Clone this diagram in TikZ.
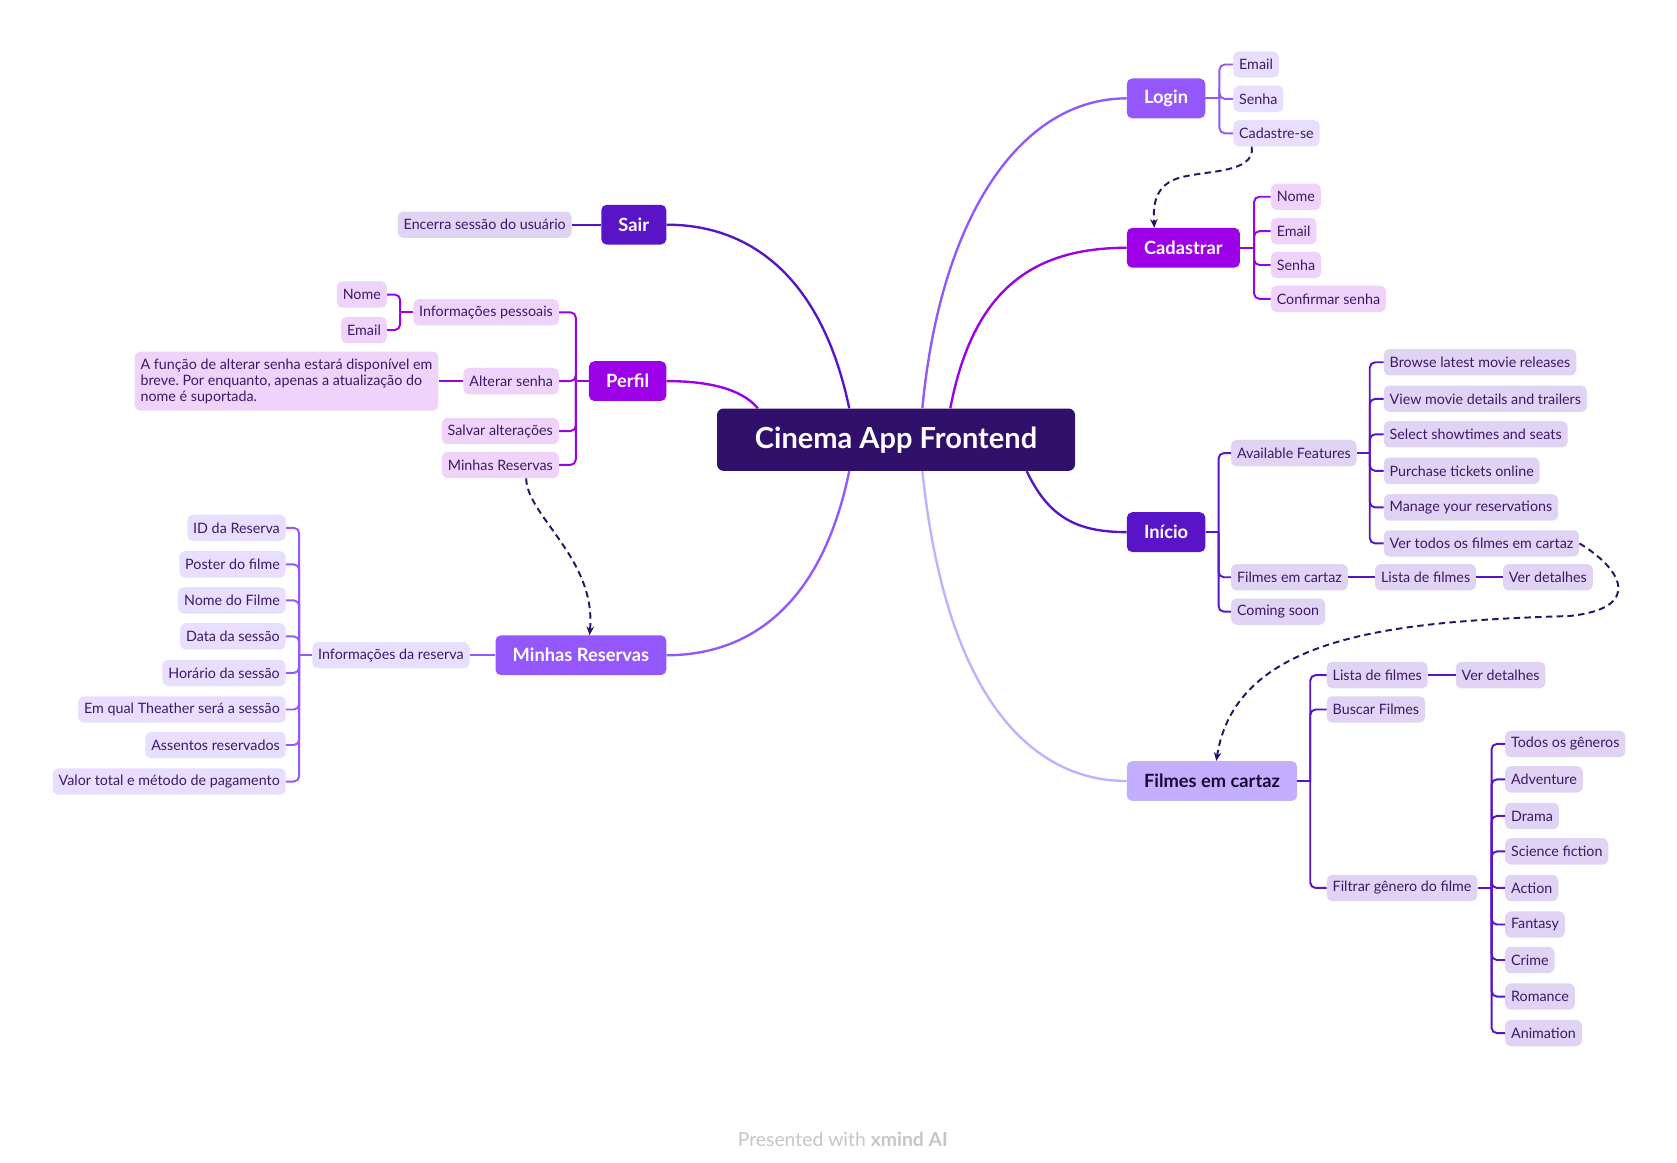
\documentclass[tikz,border=0pt]{standalone}
\usepackage{fontspec}
\setmainfont{Lato}
\usetikzlibrary{arrows.meta}
\definecolor{cRoot}{HTML}{30106A}
\definecolor{cViolet}{HTML}{9457FB}
\definecolor{cPurple}{HTML}{9B00E6}
\definecolor{cDeep}{HTML}{5A14C8}
\definecolor{cLight}{HTML}{C3AEFF}
\definecolor{fViolet}{HTML}{E8DEFF}
\definecolor{fPurple}{HTML}{EFD3FA}
\definecolor{fDeep}{HTML}{E0D3F4}
\definecolor{cSubText}{HTML}{3B1A6B}
\definecolor{cDark}{HTML}{1A0A33}
\definecolor{cDash}{HTML}{2E1065}
\definecolor{cFoot}{HTML}{C6C6C6}
\frenchspacing
\begin{document}
\begin{tikzpicture}[x=1pt,y=-1pt,
  root/.style={fill=cRoot, rounded corners=6pt, text=white, minimum width=333pt, minimum height=58pt,
    font=\fontsize{27}{30}\selectfont\bfseries},
  mainn/.style={rounded corners=5pt, text=white, minimum height=37pt, inner xsep=16pt, inner ysep=0pt,
    font=\fontsize{17}{20}\selectfont\bfseries},
  sub/.style={rounded corners=5pt, minimum height=24.5pt, inner xsep=5.5pt, inner ysep=0pt,
    font=\fontsize{13.3}{15}\selectfont, text=cSubText},
  big/.style={line width=2.2pt},
  br/.style={line width=1.8pt, rounded corners=5pt},
  dsh/.style={line width=1.8pt, cDash, dash pattern=on 6pt off 4pt, -{Stealth[length=8pt,width=7pt]}}
]
\useasboundingbox (0,0) rectangle (1560,1081);
\fill[white] (0,0) rectangle (1560,1081);

% root and main topics
\node[root] (root) at (833.5,409) {Cinema App Frontend};
\node[mainn, fill=cViolet, anchor=west] (login) at (1048,91.5) {Login};
\node[mainn, fill=cPurple, anchor=west] (cad) at (1048,230.5) {Cadastrar};
\node[mainn, fill=cDeep, anchor=west] (ini) at (1048,495) {Início};
\node[mainn, fill=cLight, text=cDark, anchor=west] (fil) at (1048,726.5) {Filmes em cartaz};
\node[mainn, fill=cDeep, anchor=east] (sair) at (620,209) {Sair};
\node[mainn, fill=cPurple, anchor=east] (perf) at (620,354.5) {Perfil};
\node[mainn, fill=cViolet, anchor=east] (mr) at (620,609.5) {Minhas Reservas};

% main curves
\draw[big, cViolet] ([xshift=24.5pt]root.north) .. controls (875,200) and (950,91.5) .. (login.west);
\draw[big, cPurple] ([xshift=50.5pt]root.north) .. controls (905,270) and (960,230.5) .. (cad.west);
\draw[big, cDeep] ([xshift=-43.5pt]root.north) .. controls (765,260) and (700,209) .. (sair.east);
\draw[big, cPurple] ([xshift=-128.5pt]root.north) .. controls (690,362) and (660,354.5) .. (perf.east);
\draw[big, cDeep] ([xshift=121.5pt]root.south) .. controls (975,480) and (1000,495) .. (ini.west);
\draw[big, cLight] ([xshift=24.5pt]root.south) .. controls (880,650) and (960,726.5) .. (fil.west);
\draw[big, cViolet] ([xshift=-43.5pt]root.south) .. controls (765,560) and (700,609.5) .. (mr.east);

% Login
\node[sub, fill=fViolet, anchor=west] (l1) at (1147,60) {Email};
\node[sub, fill=fViolet, anchor=west] (l2) at (1147,92) {Senha};
\node[sub, fill=fViolet, anchor=west] (l3) at (1147,124) {Cadastre-se};
\coordinate (loginB) at ([xshift=13pt]login.east);
\draw[br, cViolet] (login.east) -- (loginB);
\foreach \c in {l1,l2,l3} \draw[br, cViolet] (loginB) |- (\c.west);

% Cadastrar
\node[sub, fill=fPurple, anchor=west] (c1) at (1182,183) {Nome};
\node[sub, fill=fPurple, anchor=west] (c2) at (1182,215) {Email};
\node[sub, fill=fPurple, anchor=west] (c3) at (1182,246.5) {Senha};
\node[sub, fill=fPurple, anchor=west] (c4) at (1182,278) {Confirmar senha};
\coordinate (cadB) at ([xshift=13pt]cad.east);
\draw[br, cPurple] (cad.east) -- (cadB);
\foreach \c in {c1,c2,c3,c4} \draw[br, cPurple] (cadB) |- (\c.west);

% Sair
\node[sub, fill=fDeep, anchor=east] (s1) at (532,209) {Encerra sessão do usuário};
\draw[br, cDeep] (sair.west) -- (s1.east);

% Perfil
\node[sub, fill=fPurple, anchor=east] (p1) at (520,290.5) {Informações pessoais};
\node[sub, fill=fPurple, anchor=east] (p2) at (520,354.5) {Alterar senha};
\node[sub, fill=fPurple, anchor=east] (p3) at (520,401) {Salvar alterações};
\node[sub, fill=fPurple, anchor=east] (p4) at (520,432.5) {Minhas Reservas};
\coordinate (perfB) at ([xshift=-12pt]perf.west);
\draw[br, cPurple] (perf.west) -- (perfB);
\foreach \c in {p1,p2,p3,p4} \draw[br, cPurple] (perfB) |- (\c.east);
\node[sub, fill=fPurple, anchor=east] (p11) at (360,274) {Nome};
\node[sub, fill=fPurple, anchor=east] (p12) at (360,307) {Email};
\coordinate (p1B) at ([xshift=-12pt]p1.west);
\draw[br, cPurple] (p1.west) -- (p1B);
\foreach \c in {p11,p12} \draw[br, cPurple] (p1B) |- (\c.east);
\node[sub, fill=fPurple, anchor=east, align=left, minimum height=55pt] (p21) at (408,354.5)
  {A função de alterar senha estará disponível em\\breve. Por enquanto, apenas a atualização do\\nome é suportada.};
\draw[br, cPurple] (p2.west) -- (p21.east);

% Minhas Reservas
\node[sub, fill=fViolet, anchor=east] (m1) at (437,609.5) {Informações da reserva};
\draw[br, cViolet] (mr.west) -- (m1.east);
\node[sub, fill=fViolet, anchor=east] (m11) at (266,491) {ID da Reserva};
\node[sub, fill=fViolet, anchor=east] (m12) at (266,525) {Poster do filme};
\node[sub, fill=fViolet, anchor=east] (m13) at (266,558.5) {Nome do Filme};
\node[sub, fill=fViolet, anchor=east] (m14) at (266,592) {Data da sessão};
\node[sub, fill=fViolet, anchor=east] (m15) at (266,626) {Horário da sessão};
\node[sub, fill=fViolet, anchor=east] (m16) at (266,660) {Em qual Theather será a sessão};
\node[sub, fill=fViolet, anchor=east] (m17) at (266,693) {Assentos reservados};
\node[sub, fill=fViolet, anchor=east] (m18) at (266,727) {Valor total e método de pagamento};
\coordinate (m1B) at ([xshift=-12pt]m1.west);
\draw[br, cViolet] (m1.west) -- (m1B);
\foreach \c in {m11,m12,m13,m14,m15,m16,m17,m18} \draw[br, cViolet] (m1B) |- (\c.east);

% Inicio
\node[sub, fill=fDeep, anchor=west] (i1) at (1145,421.5) {Available Features};
\node[sub, fill=fDeep, anchor=west] (i2) at (1145,537) {Filmes em cartaz};
\node[sub, fill=fDeep, anchor=west] (i3) at (1145,569) {Coming soon};
\coordinate (iniB) at ([xshift=12pt]ini.east);
\draw[br, cDeep] (ini.east) -- (iniB);
\foreach \c in {i1,i2,i3} \draw[br, cDeep] (iniB) |- (\c.west);
\node[sub, fill=fDeep, anchor=west] (i11) at (1287,337) {Browse latest movie releases};
\node[sub, fill=fDeep, anchor=west] (i12) at (1287,371) {View movie details and trailers};
\node[sub, fill=fDeep, anchor=west] (i13) at (1287,404) {Select showtimes and seats};
\node[sub, fill=fDeep, anchor=west] (i14) at (1287,438) {Purchase tickets online};
\node[sub, fill=fDeep, anchor=west] (i15) at (1287,472) {Manage your reservations};
\node[sub, fill=fDeep, anchor=west] (i16) at (1287,505.5) {Ver todos os filmes em cartaz};
\coordinate (i1B) at ([xshift=12pt]i1.east);
\draw[br, cDeep] (i1.east) -- (i1B);
\foreach \c in {i11,i12,i13,i14,i15,i16} \draw[br, cDeep] (i1B) |- (\c.west);
\node[sub, fill=fDeep, anchor=west] (i21) at (1279,537) {Lista de filmes};
\node[sub, fill=fDeep, anchor=west] (i22) at (1398,537) {Ver detalhes};
\draw[br, cDeep] (i2.east) -- (i21.west);
\draw[br, cDeep] (i21.east) -- (i22.west);

% Filmes em cartaz
\node[sub, fill=fDeep, anchor=west] (f1) at (1234,628) {Lista de filmes};
\node[sub, fill=fDeep, anchor=west] (f2) at (1234,660) {Buscar Filmes};
\node[sub, fill=fDeep, anchor=west] (f3) at (1234,826) {Filtrar gênero do filme};
\coordinate (filB) at ([xshift=12pt]fil.east);
\draw[br, cDeep] (fil.east) -- (filB);
\foreach \c in {f1,f2,f3} \draw[br, cDeep] (filB) |- (\c.west);
\node[sub, fill=fDeep, anchor=west] (f11) at (1354,628) {Ver detalhes};
\draw[br, cDeep] (f1.east) -- (f11.west);
\node[sub, fill=fDeep, anchor=west] (g1) at (1400,692) {Todos os gêneros};
\node[sub, fill=fDeep, anchor=west] (g2) at (1400,725) {Adventure};
\node[sub, fill=fDeep, anchor=west] (g3) at (1400,759) {Drama};
\node[sub, fill=fDeep, anchor=west] (g4) at (1400,792) {Science fiction};
\node[sub, fill=fDeep, anchor=west] (g5) at (1400,826) {Action};
\node[sub, fill=fDeep, anchor=west] (g6) at (1400,860) {Fantasy};
\node[sub, fill=fDeep, anchor=west] (g7) at (1400,893) {Crime};
\node[sub, fill=fDeep, anchor=west] (g8) at (1400,927) {Romance};
\node[sub, fill=fDeep, anchor=west] (g9) at (1400,961) {Animation};
\coordinate (f3B) at ([xshift=13pt]f3.east);
\draw[br, cDeep] (f3.east) -- (f3B);
\foreach \c in {g1,g2,g3,g4,g5,g6,g7,g8,g9} \draw[br, cDeep] (f3B) |- (\c.west);

% dashed relations
\draw[dsh] ([xshift=-23pt]l3.south) .. controls (1168,162) and (1120,158) .. (1095,166)
  .. controls (1072,174) and (1073,195) .. ([xshift=-27pt]cad.north);
\draw[dsh] ([xshift=24pt]p4.south) .. controls (490,480) and (555,520) .. ([xshift=8pt]mr.north);
\draw[dsh] (i16.east) .. controls (1510,530) and (1528,566) .. (1460,573)
  .. controls (1300,578) and (1150,590) .. ([xshift=4pt]fil.north);

% footer
\node[font=\fontsize{18}{20}\selectfont, text=cFoot] (foot) at (784,1060) {Presented with \textbf{xmind AI}};
\end{tikzpicture}
\end{document}
